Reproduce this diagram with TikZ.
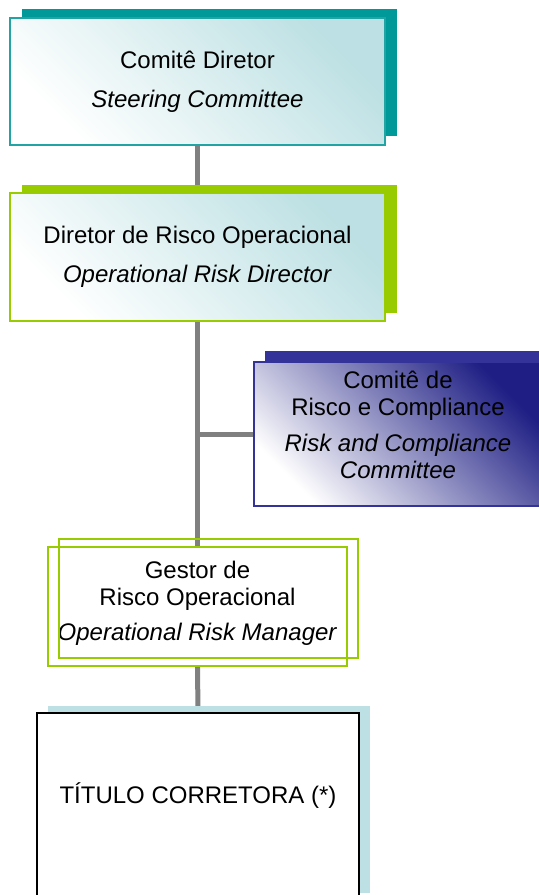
\documentclass[tikz,border=0pt]{standalone}
\usepackage{fontspec}
\setmainfont{Liberation Sans}
\usetikzlibrary{calc, positioning, shadows, backgrounds}
\definecolor{tealdark}{HTML}{009999}
\definecolor{tealedge}{HTML}{22A4A4}
\definecolor{teallight}{HTML}{BCE0E3}
\definecolor{limegreen}{HTML}{99CC00}
\definecolor{navyblue}{HTML}{333399}
\definecolor{navydeep}{HTML}{1E1E84}
\definecolor{linkgray}{HTML}{808080}

\begin{document}
\begin{tikzpicture}[% styles used in image code
  x=0.5pt, y=-0.5pt,
  font=\fontsize{12}{13.5}\selectfont,
      box/.style = {rectangle, align=center, inner sep=0pt, outer sep=0pt},
 teal box/.style = {box, draw=tealedge, line width=0.75pt,
                    top color=white, middle color=white!55!teallight,
                    bottom color=teallight, shading angle=135,
                    general shadow={fill=tealdark, shadow xshift=6pt, shadow yshift=4.5pt},
                    minimum width=187.5pt, minimum height=63.5pt},
green box/.style = {box, draw=limegreen, line width=0.75pt,
                    top color=white, middle color=white!55!teallight,
                    bottom color=teallight, shading angle=135,
                    general shadow={fill=limegreen, shadow xshift=6pt, shadow yshift=4pt},
                    minimum width=187.5pt, minimum height=64pt},
 navy box/.style = {box, draw=navyblue, line width=0.75pt,
                    top color=white, middle color=white!75!navydeep,
                    bottom color=navydeep, shading angle=135,
                    general shadow={fill=navyblue, shadow xshift=5.5pt, shadow yshift=5.5pt},
                    minimum width=144pt, minimum height=72pt},
 line box/.style = {box, draw=limegreen, line width=1pt, fill=white,
                    minimum width=149.5pt, minimum height=59.5pt},
title box/.style = {box, draw=black, line width=1pt, fill=white,
                    general shadow={fill=teallight, shadow xshift=5.5pt, shadow yshift=3.5pt},
                    minimum width=161pt, minimum height=93.5pt,
                    text height=8pt, text depth=11.5pt},
     link/.style = {draw=linkgray, line width=2.5pt}
                    ]
	\useasboundingbox (0,0) rectangle (539,895);
	\clip (0,0) rectangle (539,895);

	% boxes of the chart
	\node[teal box] (steer) at (197.5,81.5) {Comitê Diretor\\[6pt]\textit{Steering Committee}};
	\node[green box] (ordir) at (197.5,257) {Diretor de Risco Operacional\\[6pt]\textit{Operational Risk Director}};
	\node[navy box] (rcc) at (398,434) {Comitê de\\Risco e Compliance\\[4.5pt]\textit{Risk and Compliance}\\\textit{Committee}\\[-4.5pt]\mbox{}};
	\node[line box] (ormgr) at (197.5,606.5) {Gestor de\\Risco Operacional\\[4pt]\textit{Operational Risk Manager}\\[-7.5pt]\mbox{}};
	\node[title box] (broker) at (198,806.5) {TÍTULO CORRETORA (*)};

	% second frame of the manager box
	\draw[limegreen, line width=1pt] ($(ormgr.south west)+(11,-8)$) rectangle ($(ormgr.north east)+(11,-8)$);

	% connectors
	\begin{scope}[on background layer]
	\draw[link] (steer.south) -- (ordir.north);
	\draw[link] (ordir.south) -- (ormgr.north);
	\draw[link] (ormgr.south) -- (broker.north);
	\draw[link] (rcc.west) -- (rcc.west -| ordir.south);
	\end{scope}
\end{tikzpicture}
\end{document}
